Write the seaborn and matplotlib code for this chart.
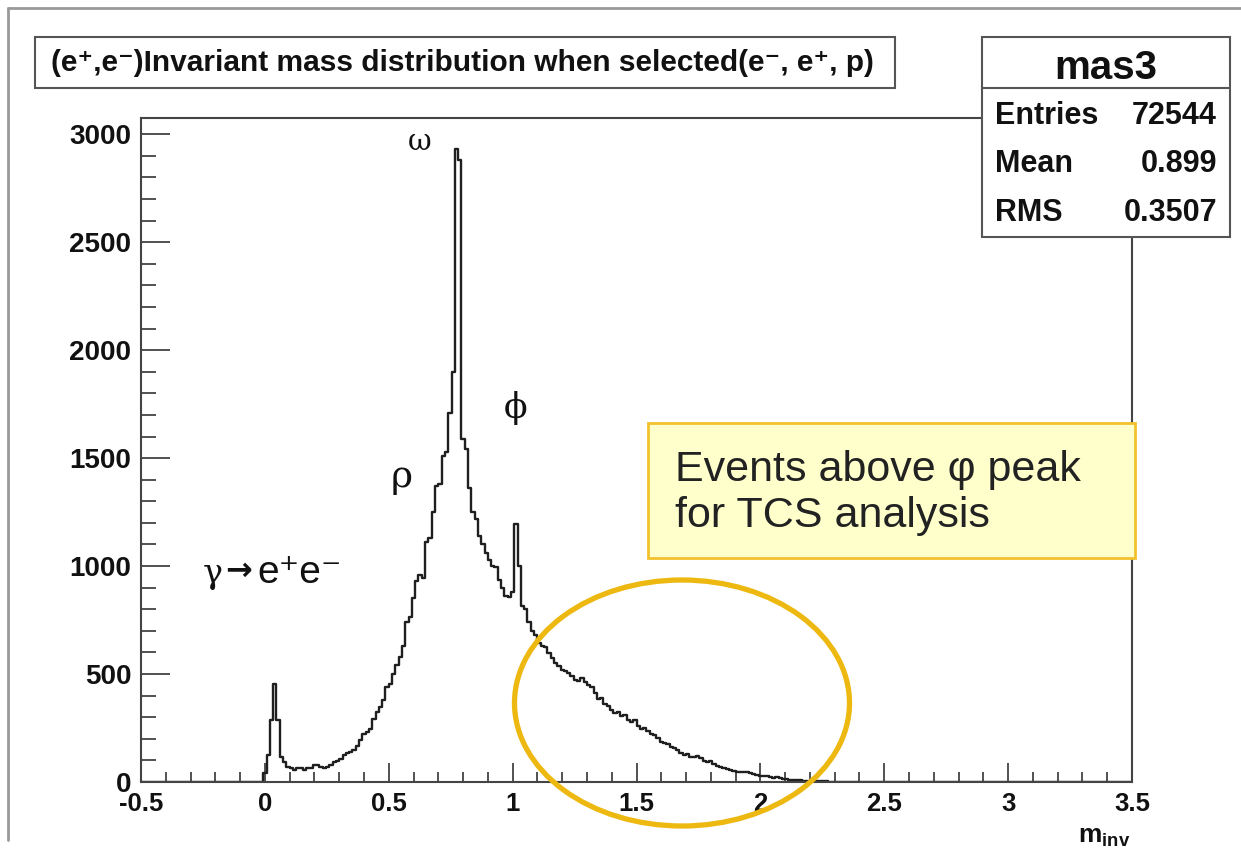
import numpy as np
import pandas as pd
import matplotlib
matplotlib.use("Agg")
import matplotlib.pyplot as plt
import seaborn as sns
from matplotlib.patches import Rectangle, Ellipse
from matplotlib.lines import Line2D
from matplotlib.ticker import MultipleLocator

# ---------------- data ----------------
x_range = (-0.5, 3.5)
n_bins = 300
first_bin = 37  # bin whose low edge is -0.00667
counts = [
    40, 125, 287, 454, 287, 117, 94, 71, 63, 56,
    63, 63, 57, 63, 66, 80, 78, 69, 66, 69,
    78, 93, 96, 108, 124, 132, 140, 148, 169, 193,
    224, 232, 247, 293, 324, 347, 378, 440, 455, 500,
    540, 580, 630, 740, 765, 850, 930, 960,
    945, 1110, 1130, 1250, 1370, 1380, 1510, 1530, 1710, 1900, 2930, 2880,
    1590, 1540, 1360, 1250, 1218, 1140, 1100, 1060, 1030, 1000, 995, 935,
    900, 860, 855, 880, 1195, 1000,
    815, 800, 740, 700, 680, 645, 630, 625, 597, 574, 551, 535, 520, 512, 505, 490,
    474, 470, 480, 465, 450, 440, 410, 385, 390, 360, 350, 335, 320, 325, 305, 312,
    288, 280, 285, 260, 245, 250, 235, 222, 218, 205, 185, 180, 175, 162, 158, 150,
    132, 125, 128, 118, 115, 120, 110, 98, 92, 95, 85, 72, 70, 66, 58, 55, 52, 48,
    46, 47, 44, 42, 36, 32, 30, 28, 30, 24, 20, 22, 18, 16, 12, 10, 11, 8, 7, 6,
    5, 5, 4, 4, 3, 3, 3, 2, 2, 2, 1, 1, 1, 1,
]
x_ticks = [-0.5, 0, 0.5, 1, 1.5, 2, 2.5, 3, 3.5]
x_tick_labels = ["-0.5", "0", "0.5", "1", "1.5", "2", "2.5", "3", "3.5"]
y_ticks = [0, 500, 1000, 1500, 2000, 2500, 3000]
y_tick_labels = ["0", "500", "1000", "1500", "2000", "2500", "3000"]
title = "(e\u207a,e\u207b)Invariant mass distribution when selected(e\u207b, e\u207a, p)"
stat_name = "mas3"
stat_labels = ["Entries", "Mean", "RMS"]
stat_values = ["72544", "0.899", "0.3507"]
box_text = "Events above \u03c6 peak\nfor TCS analysis"

# ---------------- style ----------------
sns.set_theme(style="white")
plt.rcParams['font.family'] = ['Liberation Sans', 'DejaVu Sans']
plt.rcParams.update({
    'mathtext.fontset': 'custom',
    'mathtext.rm': 'Liberation Sans',
    'mathtext.bf': 'Liberation Sans:bold',
    'mathtext.it': 'Liberation Sans:italic',
})

W, H = 1241, 863
fig = plt.figure(figsize=(W / 100, H / 100), dpi=100)
fig.patch.set_facecolor("white")

def fx(px):
    return px / W

def fy(py):
    return 1 - py / H

ax_l, ax_r, ax_t, ax_b = 141, 1132, 118, 782
ax = fig.add_axes([fx(ax_l), fy(ax_b), (ax_r - ax_l) / W, (ax_b - ax_t) / H])

width = (x_range[1] - x_range[0]) / n_bins
all_counts = np.zeros(n_bins)
all_counts[first_bin:first_bin + len(counts)] = counts
centers = x_range[0] + (np.arange(n_bins) + 0.5) * width
df = pd.DataFrame({"m": centers, "n": all_counts})

sns.histplot(data=df, x="m", weights="n", bins=n_bins, binrange=x_range,
             element="step", fill=False, color="#1f1f1f", linewidth=1.7, ax=ax)

ax.set_xlim(*x_range)
ax.set_ylim(0, 3075)
ax.set_xlabel("")
ax.set_ylabel("")
ax.set_xticks(x_ticks)
ax.set_xticklabels(x_tick_labels)
ax.set_yticks(y_ticks)
ax.set_yticklabels(y_tick_labels)
ax.xaxis.set_minor_locator(MultipleLocator(0.1))
ax.yaxis.set_minor_locator(MultipleLocator(100))
ax.tick_params(axis="x", which="major", direction="in", length=14, width=1.2,
               color="#333333", labelsize=18.5, pad=7, bottom=True, top=False)
ax.tick_params(axis="x", which="minor", direction="in", length=7, width=1.2,
               color="#333333", bottom=True, top=False)
ax.tick_params(axis="y", which="major", direction="in", length=21, width=1.2,
               color="#333333", labelsize=20, pad=7, left=True, right=False)
ax.tick_params(axis="y", which="minor", direction="in", length=10.5, width=1.2,
               color="#333333", left=True, right=False)
for lab in ax.get_xticklabels() + ax.get_yticklabels():
    lab.set_fontweight("bold")
    lab.set_color("#111111")
for sp in ax.spines.values():
    sp.set_color("#444444")
    sp.set_linewidth(1.5)
    sp.set_visible(True)
ax.grid(False)

# x-axis label
fig.text(fx(1130), fy(843), r"$\mathbf{m}_{\mathbf{inv}}$", ha="right", va="baseline",
         fontsize=19, color="#111111")

# outer frame
fig.add_artist(Line2D([fx(8), fx(8)], [fy(8), fy(840)], color="#999999", lw=2))
fig.add_artist(Line2D([fx(8), fx(1241)], [fy(8), fy(8)], color="#999999", lw=2))

# title box
fig.add_artist(Rectangle((fx(35), fy(88)), (895 - 35) / W, (88 - 37) / H,
                         transform=fig.transFigure, facecolor="white",
                         edgecolor="#555555", lw=1.5, zorder=5))
fig.text(fx(51), fy(63), title, ha="left", va="center", fontsize=21.5,
         fontweight="bold", color="#111111", zorder=6)

# stats box
sb_l, sb_r, sb_t, sb_b = 982, 1230, 37, 237
fig.add_artist(Rectangle((fx(sb_l), fy(sb_b)), (sb_r - sb_l) / W, (sb_b - sb_t) / H,
                         transform=fig.transFigure, facecolor="white",
                         edgecolor="#555555", lw=1.5, zorder=5))
fig.add_artist(Line2D([fx(sb_l), fx(sb_r)], [fy(88), fy(88)], color="#555555",
                      lw=1.5, zorder=6))
fig.text(fx((sb_l + sb_r) / 2), fy(79), stat_name, ha="center", va="baseline",
         fontsize=29, fontweight="bold", color="#111111", zorder=7)
for i, (lab, val) in enumerate(zip(stat_labels, stat_values)):
    yb = 124 + i * 48.5
    fig.text(fx(995), fy(yb), lab, ha="left", va="baseline", fontsize=22,
             fontweight="bold", color="#111111", zorder=7)
    fig.text(fx(1217), fy(yb), val, ha="right", va="baseline", fontsize=22,
             fontweight="bold", color="#111111", zorder=7)

# particle annotations
fig.text(fx(420), fy(150), "\u03c9", ha="center", va="baseline", fontsize=21,
         family="DejaVu Serif", color="#111111")
fig.text(fx(402), fy(487), "\u03c1", ha="center", va="baseline", fontsize=27,
         family="DejaVu Serif", color="#111111")
fig.text(fx(516), fy(418), "\u03d5", ha="center", va="baseline", fontsize=25,
         family="DejaVu Serif", color="#111111")
fig.text(fx(203), fy(583), "\u03b3", ha="left", va="baseline", fontsize=24,
         family="DejaVu Serif", color="#111111")
fig.text(fx(225), fy(580), "\u2192", ha="left", va="baseline", fontsize=23,
         family="DejaVu Sans", fontweight="bold", color="#111111")
fig.text(fx(257), fy(583), "e\u207ae\u207b", ha="left", va="baseline", fontsize=28,
         family=["Liberation Sans", "DejaVu Sans"], color="#111111")

# highlighted region
fig.add_artist(Rectangle((fx(648), fy(558)), (1135 - 648) / W, (558 - 423) / H,
                         transform=fig.transFigure, facecolor="#FFFFCC",
                         edgecolor="#F2C12E", lw=2, zorder=8))
fig.text(fx(675), fy(493), box_text, ha="left", va="center", fontsize=31,
         linespacing=1.22, color="#222222", zorder=9)
fig.add_artist(Ellipse((fx(682), fy(703)), 335 / W, 246 / H,
                       transform=fig.transFigure, facecolor="none",
                       edgecolor="#EDB80F", lw=3.8, zorder=9))

fig.savefig("out.png", dpi=100)
